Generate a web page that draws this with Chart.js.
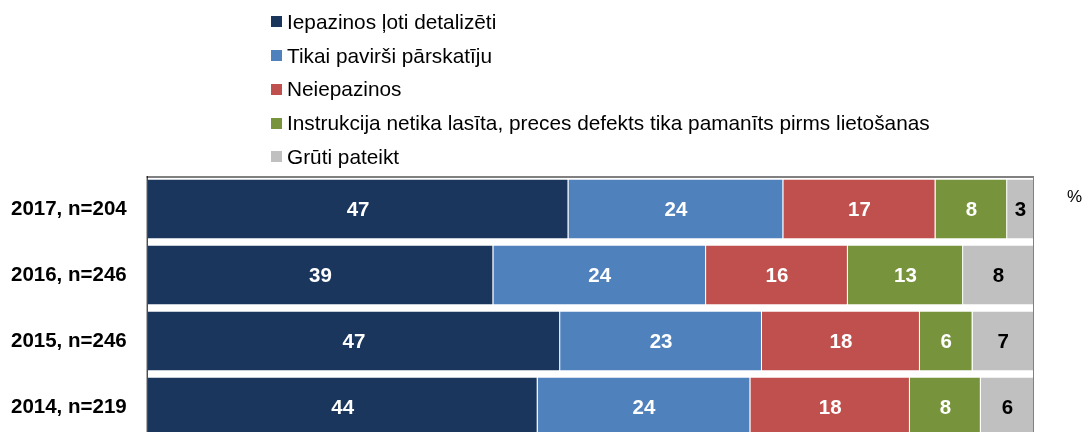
<!DOCTYPE html>
<html>
<head>
<meta charset="utf-8">
<script src="https://cdn.jsdelivr.net/npm/chart.js@4/dist/chart.umd.min.js"></script>
<style>
html, body { margin: 0; padding: 0; background: #fff; overflow: hidden; }
#wrap { position: relative; width: 1083px; height: 440px; }
#legend { position: absolute; left: 271px; top: 5px; font-family: 'Liberation Sans', Arial, sans-serif; font-size: 20.8px; color: #000; }
#legend .row { height: 33.75px; display: flex; align-items: center; white-space: nowrap; }
#legend .box { width: 11px; height: 11px; margin-right: 5px; display: inline-block; }
#pct { position: absolute; left: 1067px; top: 187px; font-family: 'Liberation Sans', Arial, sans-serif; font-size: 17px; }
</style>
</head>
<body>
<div id="wrap">
  <canvas id="myChart" width="1083" height="440"></canvas>
  <div id="legend"></div>
  <div id="pct">%</div>
</div>
<script>
var categories = ['2017, n=204', '2016, n=246', '2015, n=246', '2014, n=219'];
var seriesNames = [
    'Iepazinos ļoti detalizēti',
    'Tikai pavirši pārskatīju',
    'Neiepazinos',
    'Instrukcija netika lasīta, preces defekts tika pamanīts pirms lietošanas',
    'Grūti pateikt'
];
var detailed = [47, 39, 47, 44];
var superficial = [24, 24, 23, 24];
var notRead = [17, 16, 18, 18];
var defectBefore = [8, 13, 6, 8];
var hardToSay = [3, 8, 7, 6];
var seriesColors = ['#1b365d', '#4f81bd', '#c0504d', '#77933c', '#c0c0c0'];
var labelColors = ['#fff', '#fff', '#fff', '#fff', '#000'];

var series = [detailed, superficial, notRead, defectBefore, hardToSay];

// each bar is stretched to 100 %, labels keep the raw numbers
var totals = categories.map(function (c, i) {
    return series.reduce(function (s, arr) { return s + arr[i]; }, 0);
});

var datasets = series.map(function (arr, k) {
    return {
        label: seriesNames[k],
        data: arr.map(function (v, i) { return v / totals[i] * 100; }),
        raw: arr,
        backgroundColor: seriesColors[k],
        borderColor: 'rgba(255,255,255,0.35)',
        borderWidth: { left: 0, right: 1, top: 0, bottom: 0 },
        borderSkipped: false,
        barPercentage: 0.894,
        categoryPercentage: 1.0
    };
});

var barLabels = {
    id: 'barLabels',
    afterDatasetsDraw: function (chart) {
        var ctx = chart.ctx;
        ctx.save();
        ctx.font = 'bold 20.5px "Liberation Sans", Arial, sans-serif';
        ctx.textAlign = 'center';
        ctx.textBaseline = 'middle';
        chart.data.datasets.forEach(function (ds, k) {
            var meta = chart.getDatasetMeta(k);
            meta.data.forEach(function (el, i) {
                var p = el.getCenterPoint();
                ctx.fillStyle = labelColors[k];
                ctx.fillText(String(ds.raw[i]), p.x, p.y + 1);
            });
        });
        ctx.restore();
    }
};

var frame = {
    id: 'frame',
    afterDraw: function (chart) {
        var a = chart.chartArea;
        var ctx = chart.ctx;
        ctx.save();
        ctx.fillStyle = '#808080';
        ctx.fillRect(a.left - 1, a.top, a.right - a.left + 1, 2);
        ctx.fillRect(a.right - 1, a.top, 1, a.bottom - a.top);
        ctx.fillStyle = '#000';
        ctx.fillRect(a.left - 1, a.top, 1, a.bottom - a.top);
        ctx.restore();
    }
};

var ctx = document.getElementById('myChart');
var currentChart = new Chart(ctx, {
    type: 'bar',
    data: { labels: categories, datasets: datasets },
    options: {
        indexAxis: 'y',
        responsive: false,
        animation: false,
        layout: { autoPadding: false, padding: { top: 176, left: -10, right: 49, bottom: 0 } },
        plugins: {
            legend: { display: false },
            tooltip: { enabled: false }
        },
        scales: {
            x: { stacked: true, min: 0, max: 100, display: false },
            y: {
                stacked: true,
                grid: { display: false, drawTicks: false },
                border: { display: false },
                afterFit: function (scale) {
                    scale.paddingTop = 0;
                    scale.paddingBottom = 0;
                },
                ticks: {
                    padding: 21,
                    color: '#000',
                    font: { family: '"Liberation Sans", Arial, sans-serif', size: 20.5, weight: 'bold' }
                }
            }
        }
    },
    plugins: [barLabels, frame]
});

var legendBox = document.getElementById('legend');
currentChart.data.datasets.forEach(function (ds) {
    var row = document.createElement('div');
    row.className = 'row';
    var box = document.createElement('span');
    box.className = 'box';
    box.style.background = ds.backgroundColor;
    row.appendChild(box);
    row.appendChild(document.createTextNode(ds.label));
    legendBox.appendChild(row);
});
</script>
</body>
</html>
